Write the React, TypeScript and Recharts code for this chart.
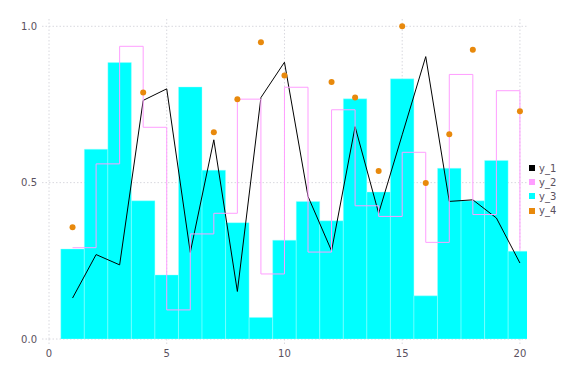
import {
  ComposedChart,
  Bar,
  Line,
  Scatter,
  XAxis,
  YAxis,
  CartesianGrid,
} from 'recharts';

const xs = [1, 2, 3, 4, 5, 6, 7, 8, 9, 10, 11, 12, 13, 14, 15, 16, 17, 18, 19, 20];
const y1 = [0.131, 0.27, 0.237, 0.763, 0.8, 0.277, 0.637, 0.152, 0.772, 0.885, 0.456, 0.282, 0.679, 0.402, 0.653, 0.903, 0.44, 0.445, 0.387, 0.243];
const y2 = [0.292, 0.56, 0.936, 0.677, 0.093, 0.336, 0.402, 0.767, 0.208, 0.805, 0.278, 0.733, 0.426, 0.392, 0.597, 0.309, 0.846, 0.398, 0.794, 0.285];
const y3 = [0.288, 0.607, 0.884, 0.442, 0.205, 0.806, 0.54, 0.372, 0.069, 0.316, 0.44, 0.378, 0.768, 0.47, 0.832, 0.138, 0.546, 0.442, 0.571, 0.281];
const y4 = [0.357, null, null, 0.788, null, null, 0.661, 0.767, 0.949, 0.843, null, 0.822, 0.772, 0.537, 1.0, 0.499, 0.655, 0.925, null, 0.728];

const xTicks = [0, 5, 10, 15, 20];
const yTicks = [0, 0.5, 1.0];

const series = [
  { name: 'y_1', color: '#000000' },
  { name: 'y_2', color: '#ff9eff' },
  { name: 'y_3', color: '#00ffff' },
  { name: 'y_4', color: '#e8890c' },
];

const data = xs.map((x, i) => ({ x, y1: y1[i], y2: y2[i], y3: y3[i] }));
const dots = xs
  .map((x, i) => ({ x, y4: y4[i] }))
  .filter((d) => d.y4 !== null);

const tickStyle = { fill: '#5a5160', fontSize: 10, fontFamily: 'DejaVu Sans' };
const tickLine = { stroke: '#d8d8de', strokeDasharray: '1.5 2' };

// legend sits outside the chart so it doesn't eat plot space
function LegendBox() {
  return (
    <div
      style={{
        position: 'absolute',
        left: 529,
        top: 161,
        fontFamily: 'DejaVu Sans',
        fontSize: 10,
        color: '#5a5160',
      }}
    >
      {series.map((s) => (
        <div key={s.name} style={{ display: 'flex', alignItems: 'center', height: 14.2 }}>
          <span style={{ width: 6, height: 6, background: s.color, marginRight: 4 }} />
          <span>{s.name}</span>
        </div>
      ))}
    </div>
  );
}

export default function App() {
  return (
    <div style={{ position: 'absolute', left: 0, top: 0, width: 576, height: 384, background: '#fff' }}>
      <ComposedChart
        width={576}
        height={384}
        data={data}
        margin={{ top: 19, right: 49, bottom: 0, left: 0 }}
      >
        <CartesianGrid stroke="#d8d8de" strokeDasharray="1.5 2" syncWithTicks />
        <XAxis
          dataKey="x"
          type="number"
          domain={[0, 20.3]}
          ticks={xTicks}
          allowDataOverflow
          axisLine={false}
          tickLine={tickLine}
          tickSize={5}
          tickMargin={6}
          height={45}
          tick={tickStyle}
        />
        <YAxis
          type="number"
          domain={[0, 1.0233]}
          ticks={yTicks}
          allowDataOverflow
          axisLine={false}
          tickLine={tickLine}
          tickSize={7}
          tickMargin={5}
          width={49}
          tick={tickStyle}
          tickFormatter={(v: number) => v.toFixed(1)}
        />
        <Bar
          dataKey="y3"
          name="y_3"
          fill="#00ffff"
          stroke="#a8ffff"
          strokeWidth={0.4}
          barSize={23.5}
          isAnimationActive={false}
        />
        <Line
          dataKey="y1"
          name="y_1"
          type="linear"
          stroke="#000000"
          strokeWidth={1}
          dot={false}
          isAnimationActive={false}
        />
        <Line
          dataKey="y2"
          name="y_2"
          type="stepAfter"
          stroke="#ff9eff"
          strokeWidth={1}
          dot={false}
          isAnimationActive={false}
        />
        <Scatter
          data={dots}
          dataKey="y4"
          name="y_4"
          fill="#e8890c"
          shape={(p: any) => <circle cx={p.cx} cy={p.cy} r={3} fill="#e8890c" />}
          isAnimationActive={false}
        />
      </ComposedChart>
      <LegendBox />
    </div>
  );
}
